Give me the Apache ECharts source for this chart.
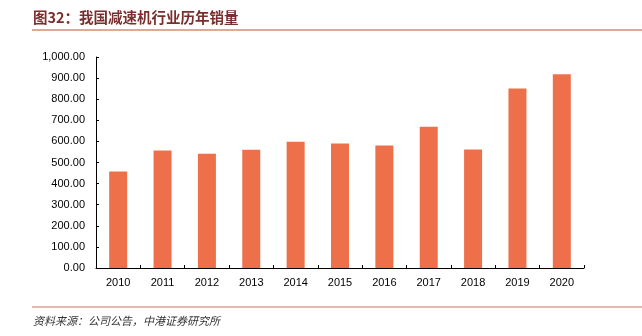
<!DOCTYPE html>
<html>
<head>
<meta charset="utf-8">
<style>
  html, body { margin: 0; padding: 0; background: #fff; }
  #chart { width: 642px; height: 336px; }
</style>
<script src="https://cdn.jsdelivr.net/npm/echarts@6/dist/echarts.min.js"></script>
</head>
<body>
<div id="chart"></div>
<script>
// Annual sales of speed reducers in China
var years = ['2010', '2011', '2012', '2013', '2014', '2015', '2016', '2017', '2018', '2019', '2020'];
var sales = [457, 557, 541, 560, 598, 590, 581, 670, 562, 851, 918];
var titleText = '图32：我国减速机行业历年销量';
var sourceText = '资料来源：公司公告，中港证券研究所';

function fmt(v) {
  var s = v.toFixed(2);
  var parts = s.split('.');
  parts[0] = parts[0].replace(/\B(?=(\d{3})+(?!\d))/g, ',');
  return parts.join('.');
}

var chart = echarts.init(document.getElementById('chart'), null, { renderer: 'canvas' });
chart.setOption({
  animation: false,
  backgroundColor: '#ffffff',
  grid: { left: 96, right: 58, top: 57, bottom: 68, containLabel: false },
  graphic: [
    {
      type: 'text', left: 33, top: 10,
      style: { text: titleText, fill: '#7a2e2e', font: 'bold 14.5px "Noto Sans CJK SC", sans-serif' }
    },
    {
      type: 'line', shape: { x1: 32, y1: 30, x2: 642, y2: 30 },
      style: { stroke: '#bf5536', lineWidth: 1.2 }
    },
    {
      type: 'line', shape: { x1: 32, y1: 307, x2: 642, y2: 307 },
      style: { stroke: '#dba090', lineWidth: 1.5 }
    },
    {
      type: 'text', left: 33, top: 315,
      style: { text: sourceText, fill: '#333333', font: 'italic 11px "Noto Sans CJK SC", sans-serif' }
    }
  ],
  xAxis: {
    type: 'category',
    data: years,
    axisLine: { show: true, lineStyle: { color: '#000000', width: 1 } },
    axisTick: { show: true, inside: true, length: 3, alignWithLabel: false, lineStyle: { color: '#000' } },
    axisLabel: { color: '#000000', fontSize: 11, margin: 9, fontFamily: 'Liberation Sans, Arial, sans-serif' }
  },
  yAxis: {
    type: 'value',
    min: 0, max: 1000, interval: 100,
    axisLine: { show: true, lineStyle: { color: '#000000', width: 1 } },
    axisTick: { show: true, inside: true, length: 3, lineStyle: { color: '#000' } },
    splitLine: { show: false },
    axisLabel: {
      color: '#000000', fontSize: 11, margin: 11,
      fontFamily: 'Liberation Sans, Arial, sans-serif',
      formatter: function (v) { return fmt(v); }
    }
  },
  series: [{
    type: 'bar',
    data: sales,
    barWidth: 18,
    itemStyle: { color: '#ed704b' }
  }]
});
</script>
</body>
</html>
